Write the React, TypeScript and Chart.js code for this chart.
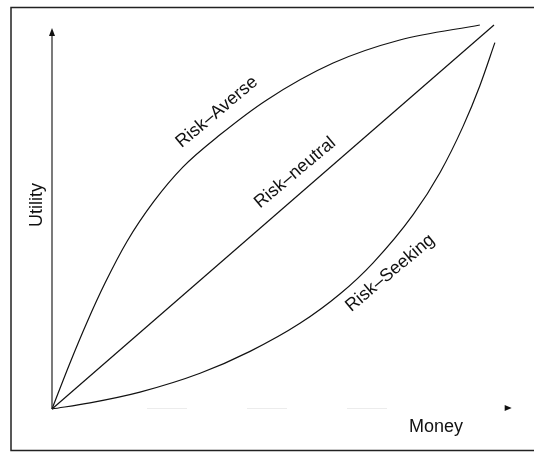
import React, { useEffect, useRef } from "react";
import { Chart, registerables } from "chart.js";

Chart.register(...registerables);

// Money (x) and Utility (y), normalised 0..1
const averseX = [0, 0.04, 0.08, 0.12, 0.17, 0.23, 0.296, 0.38, 0.486, 0.636, 0.787, 0.968];
const averseY = [0, 0.118, 0.228, 0.328, 0.437, 0.54, 0.63, 0.714, 0.805, 0.901, 0.961, 1.0];
const neutralX = [0, 1];
const neutralY = [0, 1];
const seekingX = [0, 0.086, 0.199, 0.335, 0.448, 0.561, 0.652, 0.726, 0.817, 0.878, 0.93, 0.968, 1.002];
const seekingY = [0, 0.016, 0.044, 0.093, 0.15, 0.223, 0.3, 0.38, 0.506, 0.616, 0.736, 0.842, 0.954];

const curveLabels = ["Risk–Averse", "Risk–neutral", "Risk–Seeking"];
const labelX = [0.373, 0.55, 0.765];
const labelY = [0.773, 0.615, 0.354];
const axisTitleX = "Money";
const axisTitleY = "Utility";

const toPoints = (xs: number[], ys: number[]) => xs.map((x, i) => ({ x, y: ys[i] }));

const overlay = {
  id: "overlay",
  afterDraw(chart: any) {
    const ctx = chart.ctx as CanvasRenderingContext2D;
    const xs = chart.scales.x;
    const ys = chart.scales.y;
    const ox = xs.getPixelForValue(0);
    const oy = ys.getPixelForValue(0);
    ctx.save();
    // frame
    ctx.strokeStyle = "#222";
    ctx.lineWidth = 1.5;
    ctx.beginPath();
    ctx.moveTo(534, 7.5);
    ctx.lineTo(11, 7.5);
    ctx.lineTo(11, 450.5);
    ctx.lineTo(534, 450.5);
    ctx.stroke();
    // y axis
    const yTop = ys.getPixelForValue(0.992);
    ctx.strokeStyle = "#222";
    ctx.lineWidth = 1.2;
    ctx.beginPath();
    ctx.moveTo(ox, oy);
    ctx.lineTo(ox, yTop + 6);
    ctx.stroke();
    ctx.fillStyle = "#111";
    ctx.beginPath();
    ctx.moveTo(ox, yTop);
    ctx.lineTo(ox - 3, yTop + 8);
    ctx.lineTo(ox + 3, yTop + 8);
    ctx.closePath();
    ctx.fill();
    // x axis (faint)
    const xEnd = xs.getPixelForValue(1.04);
    ctx.strokeStyle = "#ececec";
    ctx.lineWidth = 1;
    ctx.setLineDash([40, 60]);
    ctx.beginPath();
    ctx.moveTo(ox + 95, oy - 0.5);
    ctx.lineTo(xEnd - 120, oy - 0.5);
    ctx.stroke();
    ctx.setLineDash([]);
    ctx.fillStyle = "#111";
    ctx.beginPath();
    ctx.moveTo(xEnd, oy - 1);
    ctx.lineTo(xEnd - 7, oy - 4);
    ctx.lineTo(xEnd - 7, oy + 2);
    ctx.closePath();
    ctx.fill();
    // labels on curves
    ctx.fillStyle = "#111";
    ctx.font = '18px "Liberation Sans", Arial, sans-serif';
    ctx.textAlign = "center";
    ctx.textBaseline = "middle";
    curveLabels.forEach((t, i) => {
      ctx.save();
      ctx.translate(xs.getPixelForValue(labelX[i]), ys.getPixelForValue(labelY[i]));
      ctx.rotate((-40 * Math.PI) / 180);
      ctx.fillText(t, 0, 0);
      ctx.restore();
    });
    // axis titles
    ctx.font = '18px "Liberation Sans", Arial, sans-serif';
    ctx.textAlign = "left";
    ctx.fillText(axisTitleX, 409, 427);
    ctx.save();
    ctx.translate(37, 205);
    ctx.rotate(-Math.PI / 2);
    ctx.textAlign = "center";
    ctx.fillText(axisTitleY, 0, 0);
    ctx.restore();
    ctx.restore();
  },
};

export default function App() {
  const ref = useRef<HTMLCanvasElement | null>(null);
  useEffect(() => {
    if (!ref.current) return;
    const common = {
      borderColor: "#111",
      borderWidth: 1.2,
      pointRadius: 0,
      fill: false,
      clip: false as any,
      cubicInterpolationMode: "monotone" as const,
    };
    const chart = new Chart(ref.current, {
      type: "line",
      data: {
        datasets: [
          { ...common, label: "Risk-Averse", data: toPoints(averseX, averseY) },
          { ...common, label: "Risk-neutral", data: toPoints(neutralX, neutralY) },
          { ...common, label: "Risk-Seeking", data: toPoints(seekingX, seekingY) },
        ],
      },
      options: {
        responsive: false,
        animation: false,
        devicePixelRatio: 1,
        layout: { padding: { left: 52, right: 40, top: 25, bottom: 43 } },
        plugins: { legend: { display: false }, tooltip: { enabled: false } },
        scales: {
          x: { type: "linear", min: 0, max: 1, display: false },
          y: { type: "linear", min: 0, max: 1, display: false },
        },
      },
      plugins: [overlay],
    });
    return () => chart.destroy();
  }, []);
  return (
    <div style={{ position: "fixed", left: 0, top: 0, width: 534, height: 452, background: "#fff" }}>
      <canvas ref={ref} width={534} height={452} />
    </div>
  );
}
